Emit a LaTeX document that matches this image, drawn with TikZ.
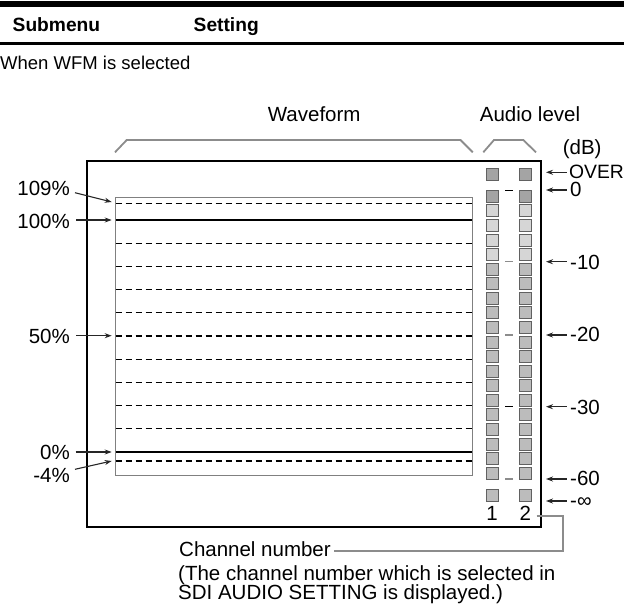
\documentclass[tikz,border=0pt]{standalone}
\usepackage{fontspec}
\setmainfont{Liberation Sans}
\usetikzlibrary{arrows.meta}
\definecolor{brkc}{HTML}{8C8C8C}
\definecolor{mdark}{HTML}{A4A4A4}
\definecolor{mlight}{HTML}{D6D6D6}
\definecolor{mmid}{HTML}{BCBCBC}
\definecolor{boxc}{HTML}{808080}
\tikzset{
  lab/.style={inner sep=0pt, font=\fontsize{20.5}{24}\selectfont},
  rlab/.style={lab, anchor=base west},
  llab/.style={lab, anchor=base east},
  clab/.style={lab, anchor=base},
  arr/.style={-{Stealth[length=7pt,width=5pt]}, line width=1.1pt, black!85},
  brk/.style={draw=brkc, line width=1.8pt},
  meter/.style={draw=black!62, line width=0.9pt, minimum width=12pt, minimum height=12pt, inner sep=0pt},
  wdash/.style={dash pattern=on 6pt off 4pt, line width=1.1pt},
  wsolid/.style={line width=2pt},
  tickb/.style={line width=1.2pt, black},
  tickg/.style={line width=1.2pt, black!45},
}
\begin{document}
\begin{tikzpicture}[x=1pt,y=-1pt]
\useasboundingbox (0,0) rectangle (624,607);
% header
\fill (0,0.8) rectangle (624,7.3);
\node[inner sep=0pt, anchor=base west, font=\bfseries\fontsize{19.2}{23}\selectfont] (hsub) at (12.5,31.7) {Submenu};
\node[inner sep=0pt, anchor=base west, font=\bfseries\fontsize{19.2}{23}\selectfont] (hset) at (193.5,31.7) {Setting};
\draw[line width=2.8pt] (0,43.3) -- (624,43.3);
\node[inner sep=0pt, anchor=base west, font=\fontsize{18.5}{22}\selectfont] (when) at (0,70) {When WFM is selected};
% titles and brackets
\node[clab] (wave) at (314.2,121.7) {Waveform};
\node[clab] (audio) at (530,121.7) {Audio level};
\node[clab] (db) at (582.2,154.3) {(dB)};
\draw[brk] (115,152.3) -- (126.7,140) -- (460.5,140) -- (472.8,152.3);
\draw[brk] (483.3,152.3) -- (494,140) -- (523.3,140) -- (536,152.3);
% frame
\draw[line width=2.3pt] (87.2,160.7) rectangle (541,527);
% waveform box
\draw[boxc, line width=1pt] (115,197.7) rectangle (472.3,475);
\foreach \y in {203.3,243.2,266.4,289.6,312.8,336,359.2,382.4,405.6,428.8,461}
  \draw[wdash] (115.5,\y) -- (471.8,\y);
\draw[wsolid] (115.5,220) -- (471.8,220);
\draw[wsolid] (115.5,451.7) -- (471.8,451.7);
% left labels
\node[llab] (l109) at (70,195) {109\%};
\node[llab] (l100) at (70,228.3) {100\%};
\node[llab] (l50) at (70,343.3) {50\%};
\node[llab] (l0) at (70,459.3) {0\%};
\node[llab] (lm4) at (70,482.7) {-4\%};
\coordinate (s109) at (75,192.7);   \coordinate (t109) at (111.7,202);
\coordinate (s100) at (76,220);     \coordinate (t100) at (111.7,220);
\coordinate (s50) at (76,335.7);    \coordinate (t50) at (111.7,335.7);
\coordinate (s0) at (75.7,452);     \coordinate (t0) at (111.7,452);
\coordinate (sm4) at (75,469.3);    \coordinate (tm4) at (111.7,461);
\foreach \n in {109,100,50,0,m4} \draw[arr] (s\n) -- (t\n);
% meters
\foreach \c/\x in {1/492.5, 2/525.8} {
  \node[meter, fill=mdark] (m\c-over) at (\x,174.2) {};
  \node[meter, fill=mdark] (m\c-0) at (\x,196.3) {};
  \foreach \i in {1,...,4} \node[meter, fill=mlight] (m\c-\i) at (\x,196.3+14.57*\i) {};
  \foreach \i in {5,...,19} \node[meter, fill=mmid] (m\c-\i) at (\x,196.3+14.57*\i) {};
  \node[meter, fill=mmid] (m\c-inf) at (\x,495.8) {};
}
\draw[tickb] (505,190.7) -- (512.5,190.7);
\draw[tickg] (505,261.7) -- (512.5,261.7);
\draw[tickg] (505,335) -- (512.5,335);
\draw[tickb] (505,406.7) -- (512.5,406.7);
\draw[tickg] (505,479) -- (512.5,479);
% right labels
\node[rlab, font=\fontsize{19.3}{23}\selectfont] (rover) at (569,178.3) {OVER};
\node[rlab] (r0) at (570,196.7) {0};
\node[rlab] (r10) at (570,269.3) {-10};
\node[rlab] (r20) at (570,341.7) {-20};
\node[rlab] (r30) at (570,414) {-30};
\node[rlab] (r60) at (570,485.5) {-60};
\node[rlab] (rinf) at (570,507.5) {-∞};
\foreach \n/\y in {over/172.3, 0/190, 10/261.7, 20/335, 30/406.7, 60/479, inf/501} {
  \coordinate (ra\n) at (566.7,\y);
  \coordinate (rt\n) at (546,\y);
  \draw[arr] (ra\n) -- (rt\n);
}
% channel numbers
\node[clab] (n1) at (492,520.5) {1};
\node[clab] (n2) at (525.3,520.5) {2};
% callout
\node[lab, anchor=base west] (cn) at (179,556.6) {Channel number};
\node[lab, anchor=base west] (cn2) at (178,580.3) {(The channel number which is selected in};
\node[lab, anchor=base west] (cn3) at (178,599.8) {SDI AUDIO SETTING is displayed.)};
\coordinate (c1) at (536.7,516);
\coordinate (c2) at (563.3,516);
\coordinate (c3) at (563.3,550.7);
\coordinate (c4) at (334,550.7);
\draw[brk] (c1) -- (c2) -- (c3) -- (c4);
\end{tikzpicture}
\end{document}
